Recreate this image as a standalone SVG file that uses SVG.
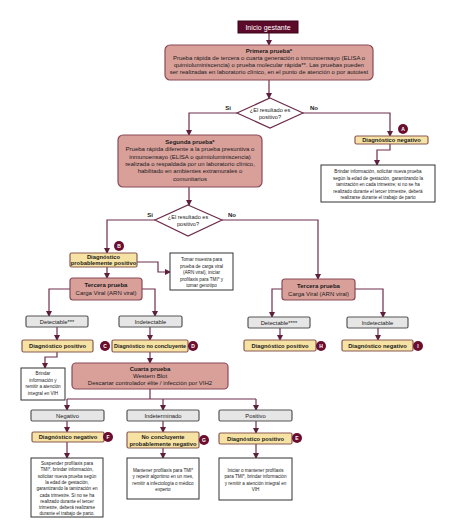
<svg xmlns="http://www.w3.org/2000/svg" width="474" height="528" viewBox="0 0 474 528">
<defs>
<marker id="ah" markerUnits="userSpaceOnUse" markerWidth="6" markerHeight="6" refX="5" refY="3" orient="auto">
<path d="M0,0 L6,3 L0,6 Z" fill="#5e1f3c"/>
</marker>
<style>
text{font-family:"Liberation Sans",Arial,sans-serif;fill:#1a1a1a;text-anchor:middle}
.conn path{fill:none;stroke:#6e2e4c;stroke-width:1.2}
.arr{marker-end:url(#ah)}
.start rect{fill:#5c0a2a;stroke:#3a0418;stroke-width:1}
.start text{fill:#fff;font-size:7px}
.test rect{fill:#d9a09a;stroke:#8a4a58;stroke-width:1.2}
.test text{font-size:6px}
.diag rect{fill:#f6e3a3;stroke:#8a5a55;stroke-width:1.2}
.diag text{font-size:5.8px;font-weight:bold}
.res rect{fill:#e6e6e6;stroke:#555;stroke-width:1.2}
.res text{font-size:5.8px}
.note rect{fill:#fff;stroke:#333;stroke-width:1}
.note text{font-size:4.6px}
.dec polygon{fill:#fff;stroke:#6e2e4c;stroke-width:1.2}
.dec text{font-size:5.6px}
.lbl{font-size:6px;font-weight:bold}
.badge circle{fill:#6a0d2e}
.badge text{fill:#fff;font-size:5px;font-weight:bold}
</style>
</defs>
<rect width="474" height="528" fill="#fff"/>

<g class="conn">
<path class="arr" d="M269,33 V45"/>
<path class="arr" d="M269,80 V98"/>
<path class="arr" d="M237,113 H189 V135"/>
<path class="arr" d="M302,113 H390 V136"/>
<path class="arr" d="M390,143 V150 H377 V165"/>
<path class="arr" d="M189,187 V205"/>
<path class="arr" d="M155,220 H107 V253"/>
<path class="arr" d="M222,220 H318 V279"/>
<path class="arr" d="M137,262 H158 V272 H170"/>
<path class="arr" d="M107,267 V278"/>
<path class="arr" d="M70,289 H49 V316"/>
<path class="arr" d="M142,289 H155 V316"/>
<path class="arr" d="M57,327 V340"/>
<path class="arr" d="M150,327 V340"/>
<path class="arr" d="M282,289 H272 V317"/>
<path class="arr" d="M355,289 H383 V317"/>
<path class="arr" d="M280,328 V340"/>
<path class="arr" d="M378,328 V340"/>
<path class="arr" d="M57,352 V357 H45 V368"/>
<path class="arr" d="M150,352 V363"/>
<path d="M150,389 V399 M67,399 H256"/>
<path class="arr" d="M67,399 V410"/>
<path class="arr" d="M163,399 V410"/>
<path class="arr" d="M256,399 V410"/>
<path class="arr" d="M67,421 V432"/>
<path class="arr" d="M163,421 V432"/>
<path class="arr" d="M256,421 V433"/>
<path class="arr" d="M67,442 V458"/>
<path class="arr" d="M163,448 V458"/>
<path class="arr" d="M256,444 V458"/>
<text class="lbl" x="228" y="110">Sí</text>
<text class="lbl" x="314" y="110">No</text>
<text class="lbl" x="150" y="217">Sí</text>
<text class="lbl" x="232" y="217">No</text>
</g>

<g id="inicio" class="start">
<rect x="238" y="21" width="60" height="12"/>
<text x="268" y="29.5">Inicio gestante</text>
</g>

<g id="primera" class="test">
<rect x="165" y="45" width="208" height="35" rx="5"/>
<text x="269" y="53" font-weight="bold">Primera prueba*</text>
<text x="269" y="60">Prueba rápida de tercera o cuarta generación o inmunoensayo (ELISA o</text>
<text x="269" y="67">quimioluminiscencia) o prueba molecular rápida**. Las pruebas pueden</text>
<text x="269" y="74">ser realizadas en laboratorio clínico, en el punto de atención o por autotest</text>
</g>

<g id="decision1" class="dec">
<polygon points="270,98 303,113 270,128 237,113"/>
<text x="270" y="112">¿El resultado es</text>
<text x="270" y="119">positivo?</text>
</g>

<g id="diagA" class="diag">
<rect x="355" y="136" width="73" height="8" rx="1.5"/>
<text x="391.5" y="142">Diagnóstico negativo</text>
</g>
<g id="badgeA" class="badge"><circle cx="403" cy="129" r="5"/><text x="403" y="130.8">A</text></g>

<g id="notaA" class="note">
<rect x="321" y="165" width="114" height="37"/>
<text x="378" y="173" font-size="4.9px">Brindar información, solicitar nueva prueba</text>
<text x="378" y="179.5" font-size="4.9px">según la edad de gestación, garantizando la</text>
<text x="378" y="186" font-size="4.9px">tamización en cada trimestre; si no se ha</text>
<text x="378" y="192.5" font-size="4.9px">realizado durante el tercer trimestre, deberá</text>
<text x="378" y="199" font-size="4.9px">realizarse durante el trabajo de parto</text>
</g>

<g id="segunda" class="test">
<rect x="118" y="135" width="144" height="52" rx="5"/>
<text x="190" y="144" font-weight="bold" font-size="6.2px">Segunda prueba*</text>
<text x="190" y="151.3" font-size="6.2px">Prueba rápida diferente a la prueba presuntiva o</text>
<text x="190" y="158.6" font-size="6.2px">inmunoensayo (ELISA o quimioluminiscencia)</text>
<text x="190" y="165.9" font-size="6.2px">realizada o respaldada por un laboratorio clínico,</text>
<text x="190" y="173.2" font-size="6.2px">habilitado en ambientes extramurales o</text>
<text x="190" y="180.5" font-size="6.2px">comunitarios</text>
</g>

<g id="decision2" class="dec">
<polygon points="188,205 222,220 188,236 155,220"/>
<text x="188" y="219">¿El resultado es</text>
<text x="188" y="226">positivo?</text>
</g>

<g id="diagB" class="diag">
<rect x="70" y="253" width="67" height="14" rx="1.5"/>
<text x="103.5" y="259">Diagnóstico</text>
<text x="103.5" y="265">probablemente positivo</text>
</g>
<g id="badgeB" class="badge"><circle cx="119" cy="246" r="5"/><text x="119" y="247.8">B</text></g>

<g id="notaB" class="note">
<rect x="170" y="253" width="63" height="37"/>
<text x="201.5" y="261">Tomar muestra para</text>
<text x="201.5" y="267.5">prueba de carga viral</text>
<text x="201.5" y="274">(ARN viral), iniciar</text>
<text x="201.5" y="280.5">profilaxis para TMI* y</text>
<text x="201.5" y="287">tomar genotipo</text>
</g>

<g id="terceraIzq" class="test">
<rect x="70" y="278" width="72" height="22" rx="3"/>
<text x="106" y="287" font-weight="bold">Tercera prueba</text>
<text x="106" y="295">Carga Viral (ARN viral)</text>
</g>

<g id="terceraDer" class="test">
<rect x="282" y="279" width="73" height="21" rx="3"/>
<text x="318.5" y="288" font-weight="bold">Tercera prueba</text>
<text x="318.5" y="295.5">Carga Viral (ARN viral)</text>
</g>

<g id="detect1" class="res">
<rect x="26" y="316" width="62" height="11" rx="1.5"/>
<text x="57" y="323.5">Detectable***</text>
</g>
<g id="indet1" class="res">
<rect x="119" y="316" width="63" height="11" rx="1.5"/>
<text x="150.5" y="323.5">Indetectable</text>
</g>
<g id="detect2" class="res">
<rect x="248" y="317" width="62" height="11" rx="1.5"/>
<text x="279" y="324.5">Detectable****</text>
</g>
<g id="indet2" class="res">
<rect x="347" y="317" width="61" height="11" rx="1.5"/>
<text x="377.5" y="324.5">Indetectable</text>
</g>

<g id="diagC" class="diag">
<rect x="22" y="340" width="71" height="12" rx="1.5"/>
<text x="57.5" y="348">Diagnóstico positivo</text>
</g>
<g id="badgeC" class="badge"><circle cx="105" cy="346" r="5"/><text x="105" y="347.8">C</text></g>

<g id="diagD" class="diag">
<rect x="112" y="340" width="76" height="12" rx="1.5"/>
<text x="150" y="348" font-size="5.2px" textLength="72" lengthAdjust="spacingAndGlyphs">Diagnóstico no concluyente</text>
</g>
<g id="badgeD" class="badge"><circle cx="193" cy="346" r="5"/><text x="193" y="347.8">D</text></g>

<g id="diagH" class="diag">
<rect x="244" y="340" width="72" height="11" rx="1.5"/>
<text x="280" y="347.5">Diagnóstico positivo</text>
</g>
<g id="badgeH" class="badge"><circle cx="321" cy="346" r="5"/><text x="321" y="347.8">H</text></g>

<g id="diagI" class="diag">
<rect x="342" y="340" width="71" height="11" rx="1.5"/>
<text x="377.5" y="347.5">Diagnóstico negativo</text>
</g>
<g id="badgeI" class="badge"><circle cx="418" cy="346" r="5"/><text x="418" y="347.8">I</text></g>

<g id="notaC" class="note">
<rect x="21" y="368" width="44" height="32"/>
<text x="43" y="375">Brindar</text>
<text x="43" y="381.5">información y</text>
<text x="43" y="388">remitir a atención</text>
<text x="43" y="394.5">integral en VIH</text>
</g>

<g id="cuarta" class="test">
<rect x="72" y="363" width="156" height="26" rx="4"/>
<text x="150" y="371" font-weight="bold" font-size="6.3px">Cuarta prueba</text>
<text x="150" y="378" font-size="6.3px">Western Blot</text>
<text x="150" y="385" font-size="6.3px">Descartar controlador élite / infección por VIH2</text>
</g>

<g id="negativo" class="res">
<rect x="31" y="410" width="73" height="11" rx="1.5"/>
<text x="67.5" y="417.5">Negativo</text>
</g>
<g id="indeterminado" class="res">
<rect x="127" y="410" width="72" height="11" rx="1.5"/>
<text x="163" y="417.5">Indeterminado</text>
</g>
<g id="positivo" class="res">
<rect x="219" y="410" width="73" height="11" rx="1.5"/>
<text x="255.5" y="417.5">Positivo</text>
</g>

<g id="diagF" class="diag">
<rect x="32" y="432" width="72" height="10" rx="1.5"/>
<text x="68" y="439">Diagnóstico negativo</text>
</g>
<g id="badgeF" class="badge"><circle cx="108" cy="437" r="5"/><text x="108" y="438.8">F</text></g>

<g id="diagG" class="diag">
<rect x="127" y="432" width="72" height="16" rx="1.5"/>
<text x="163" y="439">No concluyente</text>
<text x="163" y="445.5">probablemente negativo</text>
</g>
<g id="badgeG" class="badge"><circle cx="204" cy="440" r="5"/><text x="204" y="441.8">G</text></g>

<g id="diagE" class="diag">
<rect x="219" y="433" width="73" height="11" rx="1.5"/>
<text x="255.5" y="440.5">Diagnóstico positivo</text>
</g>
<g id="badgeE" class="badge"><circle cx="297" cy="438" r="5"/><text x="297" y="439.8">E</text></g>

<g id="notaF" class="note">
<rect x="31" y="458" width="72" height="59"/>
<text x="67" y="465">Suspender profilaxis para</text>
<text x="67" y="471.3">TMI*, brindar información,</text>
<text x="67" y="477.6">solicitar nueva prueba según</text>
<text x="67" y="483.9">la edad de gestación,</text>
<text x="67" y="490.2">garantizando la tamización en</text>
<text x="67" y="496.5">cada trimestre. Si no se ha</text>
<text x="67" y="502.8">realizado durante el tercer</text>
<text x="67" y="509.1">trimestre, deberá realizarse</text>
<text x="67" y="515.4">durante el trabajo de parto.</text>
</g>

<g id="notaG" class="note">
<rect x="127" y="458" width="72" height="41"/>
<text x="163" y="472">Mantener profilaxis para TMI*</text>
<text x="163" y="478.3">y repetir algoritmo en un mes,</text>
<text x="163" y="484.6">remitir a infectología o médico</text>
<text x="163" y="490.9">experto</text>
</g>

<g id="notaE" class="note">
<rect x="219" y="458" width="73" height="42"/>
<text x="255.5" y="472">Iniciar o mantener profilaxis</text>
<text x="255.5" y="478.3">para TMI*, brindar información</text>
<text x="255.5" y="484.6">y remitir a atención integral en</text>
<text x="255.5" y="490.9">VIH</text>
</g>
</svg>
